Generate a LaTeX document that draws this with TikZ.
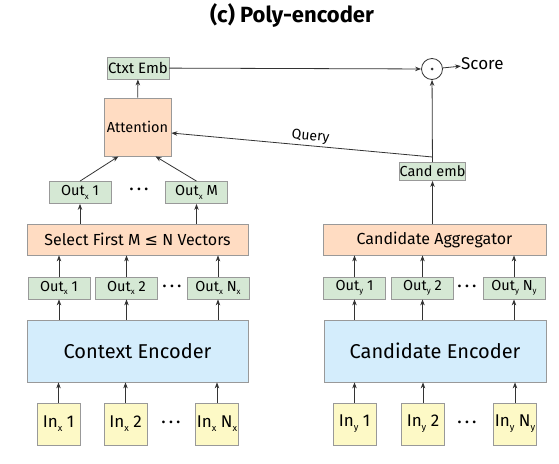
\documentclass[tikz,border=0pt]{standalone}
\usepackage{fontspec}
\setmainfont{Fira Sans}
\newfontfamily\symfont{DejaVu Sans}
\usetikzlibrary{arrows.meta}

\definecolor{greenfill}{HTML}{D5E8D4}
\definecolor{peachfill}{HTML}{FFDCC2}
\definecolor{bluefill}{HTML}{D4EDFC}
\definecolor{yellowfill}{HTML}{FDF9C6}
\definecolor{boxline}{HTML}{999999}
\definecolor{arrowline}{HTML}{333333}

\newcommand{\dotrow}{{\fontsize{12}{12}\selectfont\textbullet\hspace{3.5pt}\textbullet\hspace{3.5pt}\textbullet}}
\newcommand{\lowsub}[1]{\raisebox{-0.22em}{\scalebox{0.55}{#1}}}

\begin{document}
\begin{tikzpicture}[x=1pt, y=-1pt,
		box_style/.style={rectangle,draw=boxline,line width=0.8pt,inner sep=0pt},
		green_box/.style={box_style,fill=greenfill,minimum width=62pt,minimum height=22pt,font=\fontsize{14.5}{14.5}\selectfont},
		peach_box/.style={box_style,fill=peachfill,minimum height=31pt,font=\fontsize{16}{16}\selectfont},
		blue_box/.style={box_style,fill=bluefill,minimum width=221pt,minimum height=62pt,font=\fontsize{20}{20}\selectfont},
		yellow_box/.style={box_style,fill=yellowfill,minimum width=43pt,minimum height=42pt,font=\fontsize{17}{17}\selectfont},
		dots_style/.style={inner sep=0pt},
		edge_style/.style={draw=arrowline,line width=0.8pt,-{Stealth[length=6pt,width=4.5pt]}}]

		\useasboundingbox (0,0) rectangle (559,463);

		\node[font=\fontsize{22}{22}\selectfont\bfseries] (title) at (292,15) {(c) Poly-encoder};

		% context side
		\node[yellow_box] (inx1) at (58.5,424) {In\lowsub{x} 1};
		\node[yellow_box] (inx2) at (125.5,424) {In\lowsub{x} 2};
		\node[dots_style] (inxd) at (171,424) {\dotrow};
		\node[yellow_box] (inxn) at (217,424) {In\lowsub{x} N\lowsub{x}};

		\node[blue_box] (ctxenc) at (137.5,351) {Context Encoder};

		\node[green_box] (outx1) at (59,288) {Out\lowsub{x} 1};
		\node[green_box] (outx2) at (126.5,288) {Out\lowsub{x} 2};
		\node[dots_style] (outxd) at (172,288) {\dotrow};
		\node[green_box] (outxn) at (218,288) {Out\lowsub{x} N\lowsub{x}};

		\node[peach_box,minimum width=221pt] (select) at (137.5,239.5) {Select First M {\symfont ≤} N Vectors};

		\node[green_box] (outm1) at (80,192.5) {Out\lowsub{x} 1};
		\node[dots_style] (outmd) at (139,191) {\dotrow};
		\node[green_box] (outmm) at (196.5,192.5) {Out\lowsub{x} M};

		\node[peach_box,minimum width=67pt,minimum height=58pt,font=\fontsize{14.5}{14.5}\selectfont] (att) at (137.5,127) {Attention};
		\node[green_box,font=\fontsize{15}{15}\selectfont] (ctxt) at (138,68) {Ctxt Emb};

		% candidate side
		\node[yellow_box] (iny1) at (354.5,424) {In\lowsub{y} 1};
		\node[yellow_box] (iny2) at (423,424) {In\lowsub{y} 2};
		\node[dots_style] (inyd) at (467,424) {\dotrow};
		\node[yellow_box] (inyn) at (515,424) {In\lowsub{y} N\lowsub{y}};

		\node[blue_box,minimum width=222pt] (candenc) at (435,351) {Candidate Encoder};

		\node[green_box] (outy1) at (354.5,288) {Out\lowsub{y} 1};
		\node[green_box] (outy2) at (422.5,288) {Out\lowsub{y} 2};
		\node[dots_style] (outyd) at (467,288) {\dotrow};
		\node[green_box] (outyn) at (514,288) {Out\lowsub{y} N\lowsub{y}};

		\node[peach_box,minimum width=223pt] (aggr) at (434.5,239.5) {Candidate Aggregator};
		\node[green_box,minimum width=61pt,minimum height=18pt] (cemb) at (432.5,171.5) {Cand emb};
		\coordinate (qsrc) at (432.5,157);

		% score
		\node[circle,draw=arrowline,line width=0.8pt,minimum size=21pt,inner sep=0pt] (dot) at (432,69) {};
		\fill[arrowline] (dot.center) circle (1.5pt);
		\node[anchor=west,inner sep=0pt,font=\fontsize{17}{17}\selectfont] (score) at (461,64) {Score};

		% arrows
		\foreach \n in {inx1,inx2,inxn}
			\draw[edge_style] (\n) -- (\n |- ctxenc.south);
		\foreach \n in {iny1,iny2,inyn}
			\draw[edge_style] (\n) -- (\n |- candenc.south);
		\foreach \n in {outx1,outx2,outxn}
		{
			\draw[edge_style] (\n |- ctxenc.north) -- (\n);
			\draw[edge_style] (\n) -- (\n |- select.south);
		}
		\foreach \n in {outy1,outy2,outyn}
		{
			\draw[edge_style] (\n |- candenc.north) -- (\n);
			\draw[edge_style] (\n) -- (\n |- aggr.south);
		}
		\draw[edge_style] (outm1 |- select.north) -- (outm1);
		\draw[edge_style] (outmm |- select.north) -- (outmm);
		\draw[edge_style] (outm1.north) -- ([xshift=-19pt]att.south);
		\draw[edge_style] (outmm.north) -- ([xshift=18pt]att.south);
		\draw[edge_style] (att) -- (ctxt);
		\draw[edge_style] (ctxt) -- (dot);
		\draw[edge_style] (dot) -- (score);
		\draw[edge_style] (cemb |- aggr.north) -- (cemb);
		\draw[edge_style] (cemb) -- (dot);
		\draw[edge_style,{Stealth[length=6pt,width=4.5pt]}-] ([yshift=-6pt]att.east) -- node[sloped,above,pos=0.53,inner sep=2pt,font=\fontsize{14}{14}\selectfont] {Query} (qsrc);

\end{tikzpicture}
\end{document}
